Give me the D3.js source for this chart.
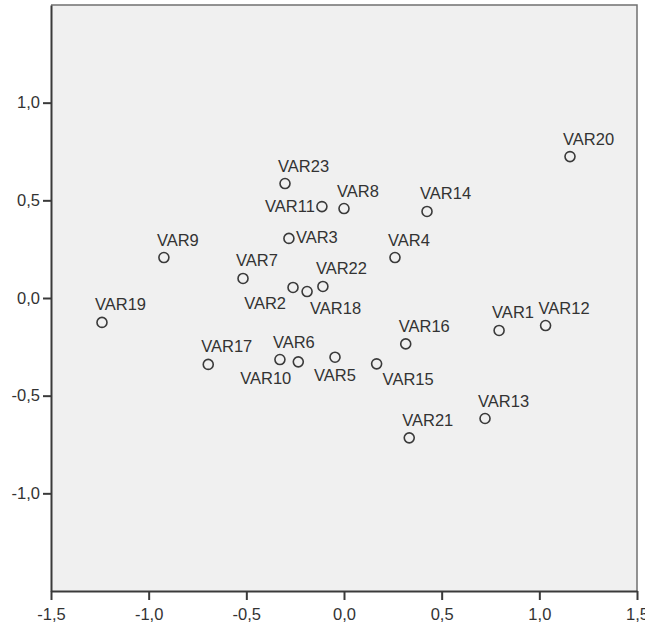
<!DOCTYPE html>
<html><head><meta charset="utf-8">
<script src="https://cdn.jsdelivr.net/npm/d3@7"></script>
<style>body{margin:0;background:#fff;} text{font-family:"Liberation Sans",Arial,sans-serif;}</style>
</head><body>
<svg id="c" width="645" height="629"></svg>
<script>
const names = ["VAR1","VAR2","VAR3","VAR4","VAR5","VAR6","VAR7","VAR8","VAR9","VAR10","VAR11","VAR12","VAR13","VAR14","VAR15","VAR16","VAR17","VAR18","VAR19","VAR20","VAR21","VAR22","VAR23"];
const dim1 = [0.794,-0.261,-0.282,0.261,-0.046,-0.328,-0.517,0.000,-0.922,-0.234,-0.113,1.032,0.722,0.425,0.167,0.316,-0.695,-0.189,-1.239,1.157,0.334,-0.108,-0.302];
const dim2 = [-0.166,0.054,0.305,0.207,-0.303,-0.315,0.100,0.458,0.207,-0.327,0.468,-0.141,-0.617,0.443,-0.337,-0.235,-0.340,0.033,-0.125,0.724,-0.716,0.059,0.586];
// label placement: a=above, l=left, r=right, bl=below-left, b=below, bc=below-centre, br=below-right
const labelSide = ["a","bl","r","a","bc","a","a","a","a","bl","l","a","a","a","br","a","a","b","a","a","a","a","a"];
const xTicks = [-1.5,-1.0,-0.5,0.0,0.5,1.0,1.5];
const yTicks = [-1.0,-0.5,0.0,0.5,1.0];

const svg = d3.select("#c");
const L=51, R=637, T=5, B=591;
const x = d3.scaleLinear().domain([-1.5,1.5]).range([L,R]);
const y = d3.scaleLinear().domain([-1.5,1.5]).range([B,T]);
const fmt = d => d3.format(".1f")(d).replace(".",",").replace("−","-");

svg.append("rect").attr("x",L).attr("y",T).attr("width",R-L).attr("height",B-T).attr("fill","#f0f0f0");
svg.append("path").attr("d",`M${L},${T}H${R}V${B}`).attr("fill","none").attr("stroke","#707070").attr("stroke-width",1.5);

const xa = svg.append("g").attr("transform",`translate(0,${B})`)
  .call(d3.axisBottom(x).tickValues(xTicks).tickFormat(fmt).tickSize(9).tickSizeOuter(0));
const ya = svg.append("g").attr("transform",`translate(${L},0)`)
  .call(d3.axisLeft(y).tickValues(yTicks).tickFormat(fmt).tickSize(8).tickSizeOuter(0));
[xa,ya].forEach(g=>{
  g.select(".domain").attr("stroke","#3a3a3a").attr("stroke-width",2);
  g.selectAll(".tick line").attr("stroke","#3a3a3a").attr("stroke-width",2);
  g.selectAll(".tick text").attr("fill","#333").style("font-size","16.5px").style("font-family","'Liberation Sans',Arial,sans-serif");
});
xa.selectAll(".tick text").attr("dy","1.05em").attr("y",12);
ya.selectAll(".tick text").attr("x",-11);

const pts = names.map((n,i)=>({n, a:dim1[i], b:dim2[i], s:labelSide[i]}));
svg.append("g").selectAll("circle").data(pts).join("circle")
  .attr("cx",d=>x(d.a)).attr("cy",d=>y(d.b)).attr("r",5)
  .attr("fill","none").attr("stroke","#3a3a3a").attr("stroke-width",1.6);

const place = {
  a:  {dx:-7, dy:-12, anchor:"start"},
  l:  {dx:-7, dy:5, anchor:"end"},
  r:  {dx:7, dy:5, anchor:"start"},
  bl: {dx:-7, dy:22, anchor:"end"},
  b:  {dx:3, dy:22, anchor:"start"},
  bc: {dx:0, dy:24, anchor:"middle"},
  br: {dx:6, dy:21, anchor:"start"}
};
svg.append("g").selectAll("text").data(pts).join("text")
  .attr("x",d=>x(d.a)+place[d.s].dx).attr("y",d=>y(d.b)+place[d.s].dy)
  .attr("text-anchor",d=>place[d.s].anchor)
  .attr("fill","#333").style("font-size","16.5px").text(d=>d.n);
</script>
</body></html>
